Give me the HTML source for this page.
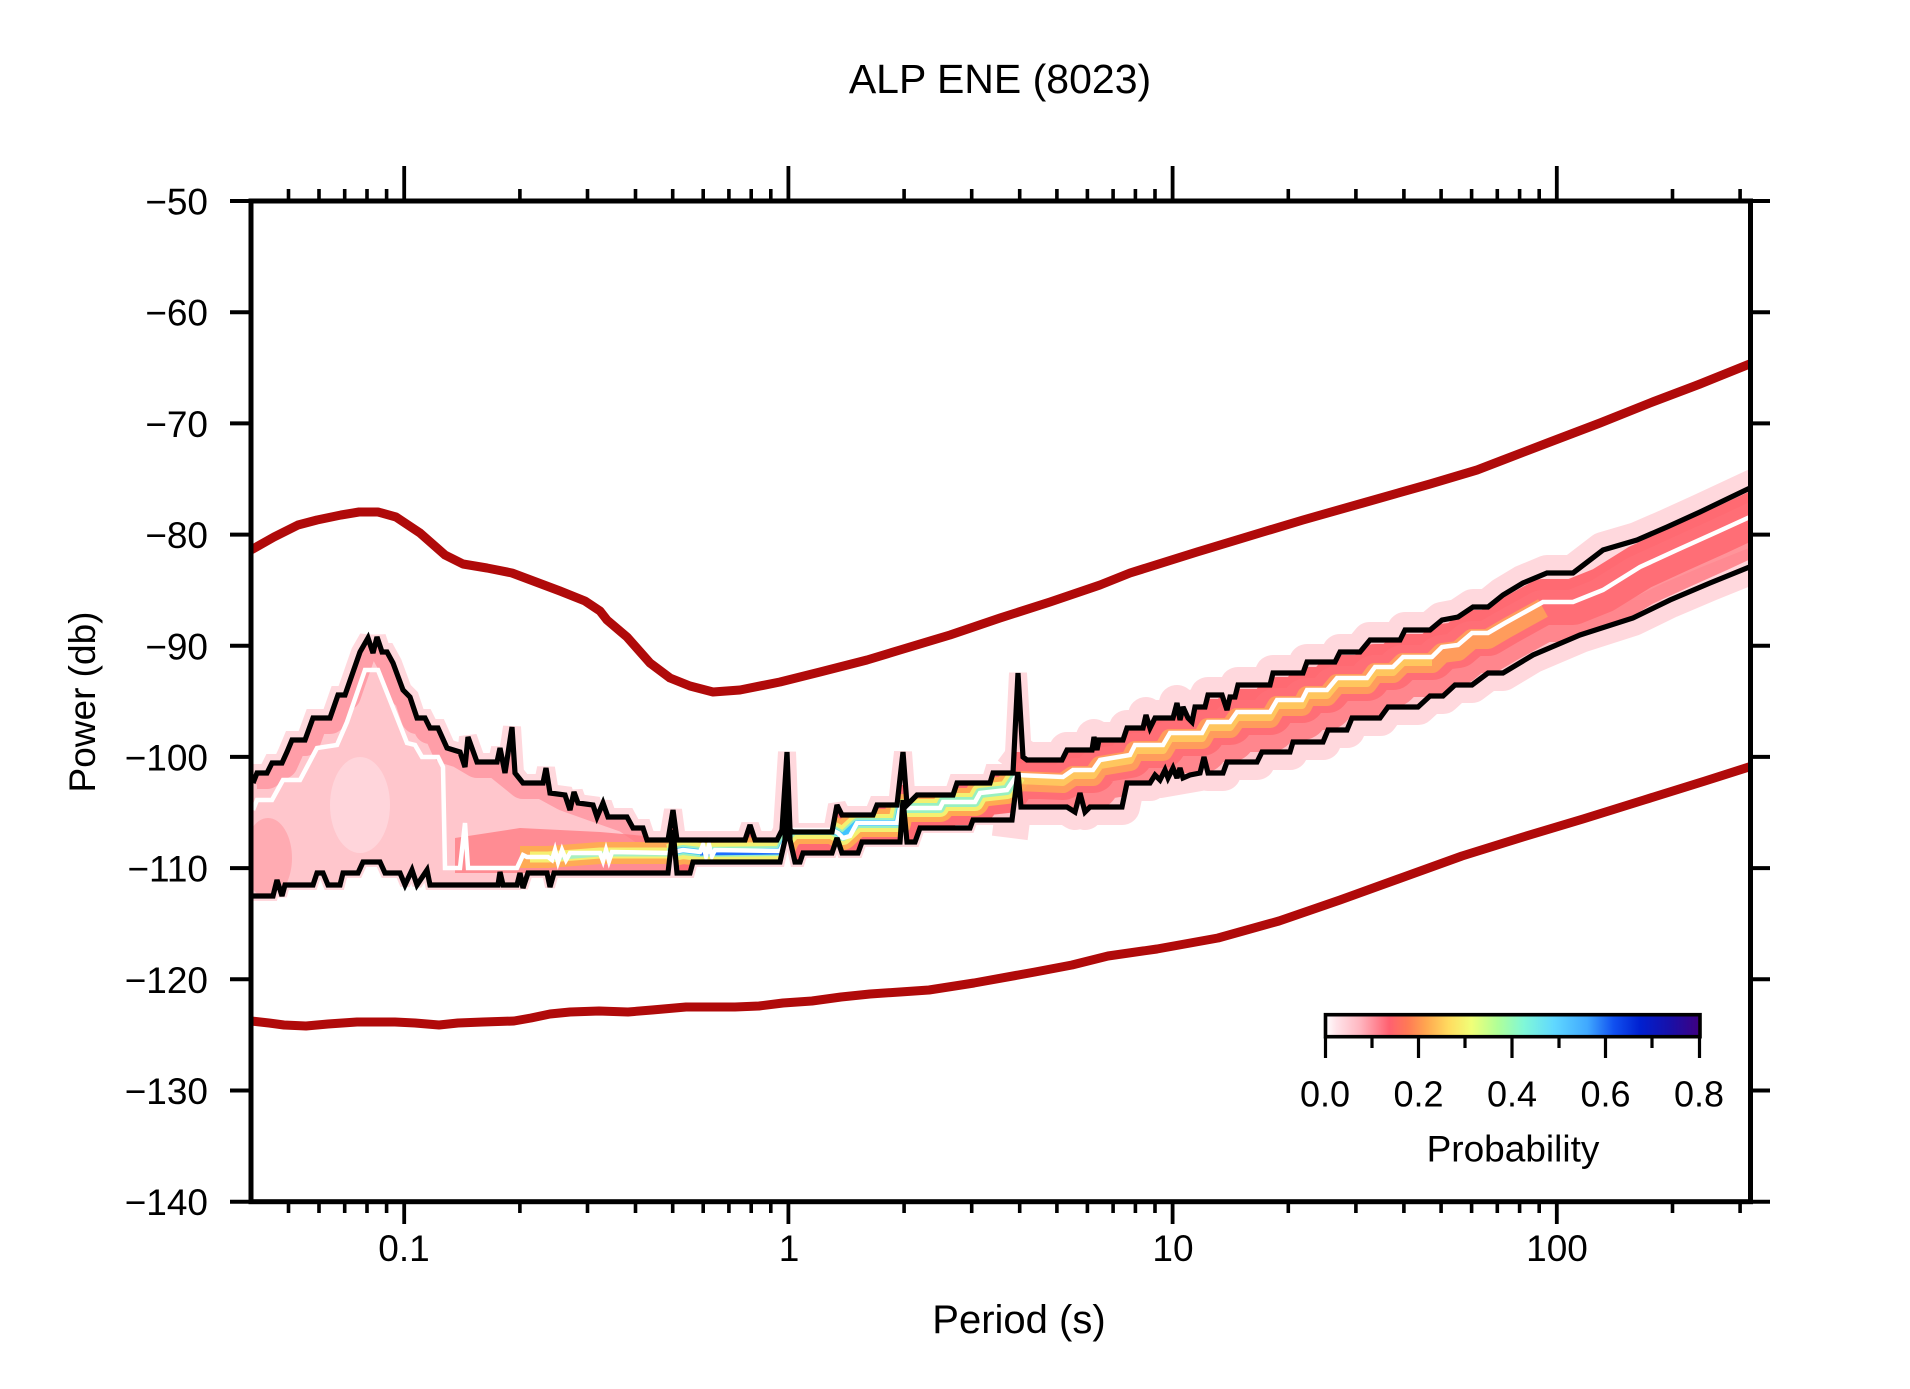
<!DOCTYPE html>
<html>
<head>
<meta charset="utf-8">
<style>
html,body{margin:0;padding:0;background:#fff;}
svg{display:block;}
text{font-family:"Liberation Sans",Arial,sans-serif;fill:#000;}
</style>
</head>
<body>
<svg width="1910" height="1389" viewBox="0 0 1910 1389" xmlns="http://www.w3.org/2000/svg">
<defs>
  <clipPath id="plot"><rect x="251" y="201" width="1499.5" height="1000.7"/></clipPath>
  <clipPath id="band">
    <polygon points="253,783 257,773 267,773 272,763 282,763 287,752 292,740 305,740 313,718 330,718 338,695 345,695 360,652 368,638 373,653 377,637 382,652 387,652 393,663 403,690 410,697 417,718 425,718 430,728 438,728 447,748 460,752 465,767 468,737 477,762 497,762 500,748 505,773 512,727 515,773 523,783 543,783 546,768 550,793 565,795 570,810 574,792 578,803 593,805 597,817 603,803 608,817 627,817 633,828 643,828 647,840 668,840 673,810 677,840 745,840 750,825 755,840 777,840 782,830 787,752 790,830 793,832 832,832 837,805 842,815 873,815 877,805 897,805 903,752 907,805 917,795 953,795 957,783 990,783 993,773 1013,773 1018,673 1023,757 1027,760 1062,760 1067,750 1092,750 1094,737 1097,750 1099,740 1123,740 1127,728 1143,728 1146,715 1150,728 1155,718 1173,718 1177,703 1180,720 1183,707 1188,718 1192,722 1195,707 1205,707 1208,695 1222,695 1227,710 1230,697 1235,697 1238,685 1270,685 1273,673 1303,673 1307,662 1335,662 1340,652 1360,652 1370,640 1400,640 1405,630 1430,630 1442,620 1458,617 1473,607 1488,607 1503,595 1523,583 1547,573 1573,573 1603,550 1637,540 1667,527 1700,512 1752,487 1752,567 1750,567 1710,583 1670,600 1633,618 1580,635 1533,655 1503,673 1488,673 1472,685 1455,685 1443,696 1430,696 1418,707 1388,707 1380,718 1352,718 1347,730 1328,730 1323,742 1293,742 1290,752 1262,752 1257,762 1227,762 1223,773 1208,773 1204,757 1200,773 1190,775 1183,778 1180,768 1177,778 1173,768 1168,778 1165,770 1160,780 1155,775 1150,783 1127,783 1122,807 1090,807 1085,812 1080,793 1075,812 1067,807 1021,807 1018,772 1012,820 973,820 970,828 920,828 915,842 907,842 903,800 900,842 862,842 858,853 842,853 837,838 832,853 803,853 800,862 795,862 790,840 787,762 785,840 780,862 693,862 690,873 677,873 673,830 668,873 554,873 550,887 547,873 528,873 523,888 520,873 517,885 503,885 500,872 498,885 430,885 427,870 417,885 412,870 405,885 400,873 385,873 380,862 363,862 358,873 343,873 340,885 328,885 323,873 317,873 313,885 285,885 282,896 277,880 273,896 251,896 251,783"/>
  </clipPath>
  <linearGradient id="cb" x1="0" y1="0" x2="1" y2="0">
    <stop offset="0" stop-color="#ffffff"/>
    <stop offset="0.03" stop-color="#ffe2e8"/>
    <stop offset="0.09" stop-color="#ffb8c2"/>
    <stop offset="0.17" stop-color="#ff6070"/>
    <stop offset="0.22" stop-color="#ff7a55"/>
    <stop offset="0.27" stop-color="#ffa850"/>
    <stop offset="0.33" stop-color="#ffdc60"/>
    <stop offset="0.39" stop-color="#f0ff78"/>
    <stop offset="0.46" stop-color="#b0ff98"/>
    <stop offset="0.53" stop-color="#80f8d8"/>
    <stop offset="0.61" stop-color="#60d8ff"/>
    <stop offset="0.70" stop-color="#40a8ff"/>
    <stop offset="0.77" stop-color="#1050f0"/>
    <stop offset="0.84" stop-color="#0020d0"/>
    <stop offset="0.92" stop-color="#1810a8"/>
    <stop offset="1" stop-color="#400080"/>
  </linearGradient>
</defs>

<rect width="1910" height="1389" fill="#fff"/>

<!-- Title -->
<text x="1000" y="93" font-size="41" text-anchor="middle">ALP ENE (8023)</text>

<g clip-path="url(#plot)">
  <!-- pink halos -->
  <g fill="none" stroke="#ffd8dd" stroke-linejoin="miter" stroke-miterlimit="2" stroke-linecap="square">
    <polyline stroke-width="18" points="253,783 257,773 267,773 272,763 282,763 287,752 292,740 305,740 313,718 330,718 338,695 345,695 360,652 368,638 373,653 377,637 382,652 387,652 393,663 403,690 410,697 417,718 425,718 430,728 438,728 447,748 460,752 465,767 468,737 477,762 497,762 500,748 505,773 512,727 515,773 523,783 543,783 546,768 550,793 565,795 570,810 574,792 578,803 593,805 597,817 603,803 608,817 627,817 633,828 643,828 647,840 668,840 673,810 677,840 745,840 750,825 755,840 777,840 782,830 787,752 790,830 793,832 832,832 837,805 842,815 873,815 877,805 897,805 903,752 907,805 917,795 953,795 957,783 990,783 993,773 1013,773 1018,673 1023,757 1027,760"/>
    <polyline stroke-width="10" points="253,896 273,896 277,880 282,896 285,885 313,885 317,873 323,873 328,885 340,885 343,873 358,873 363,862 380,862 385,873 400,873 405,885 412,870 417,885 427,870 430,885 498,885 500,872 503,885 517,885 520,873 523,888 528,873 547,873 550,887 554,873 668,873 673,830 677,873 690,873 693,862 780,862 785,840 787,762 790,840 795,862 800,862 803,853 832,853 837,838 842,853 858,853 862,842 900,842 903,800 907,842 915,842 920,828 970,828 973,820 1012,820"/>
    <polyline stroke-width="36" stroke="#ffd8dd" stroke-linejoin="round" points="1023,757 1027,760 1062,760 1067,750 1092,750 1094,737 1097,750 1099,740 1123,740 1127,728 1143,728 1146,715 1150,728 1155,718 1173,718 1177,703 1180,720 1183,707 1188,718 1192,722 1195,707 1205,707 1208,695 1222,695 1227,710 1230,697 1235,697 1238,685 1270,685 1273,673 1303,673 1307,662 1335,662 1340,652 1360,652 1370,640 1400,640 1405,630 1430,630 1442,620 1458,617 1473,607 1488,607 1503,595 1523,583 1547,573 1573,573 1603,550 1637,540 1667,527 1700,512 1760,484"/>
    <polyline stroke-width="36" stroke="#ffd8dd" stroke-linejoin="round" points="1012,820 1018,772 1021,807 1067,807 1075,812 1080,793 1085,812 1090,807 1122,807 1127,783 1150,783 1155,775 1160,780 1200,773 1204,757 1208,773 1223,773 1227,762 1257,762 1262,752 1290,752 1293,742 1323,742 1328,730 1347,730 1352,718 1380,718 1388,707 1418,707 1430,696 1443,696 1455,685 1472,685 1488,673 1503,673 1533,655 1580,635 1633,618 1670,600 1710,583 1760,563"/>
  </g>

  <!-- density band -->
  <g clip-path="url(#band)">
    <rect x="251" y="600" width="1500" height="320" fill="#ffc6cc"/>
    <!-- region A -->
    <polyline fill="none" stroke="#ff9ea8" stroke-width="32" stroke-linejoin="round" points="253,783 257,773 267,773 272,763 282,763 287,752 292,740 305,740 313,718 330,718 338,695 345,695 360,652 368,638 377,637 387,652 393,663 403,690 410,697 417,718 425,718 430,728 438,728 447,748 460,752 477,762 497,762 523,783 543,783 565,795 593,805 627,817 643,828 668,840"/>
    <ellipse cx="268" cy="858" rx="24" ry="40" fill="#ff8a92" opacity="0.45"/>
    <ellipse cx="360" cy="805" rx="30" ry="48" fill="#ffe0e5" opacity="0.6"/>
    <!-- region B -->
    <polygon points="455,838 520,828 600,832 668,838 668,873 455,873" fill="#ff7880" opacity="0.75"/>
    <polyline fill="none" stroke="#ffaa55" stroke-width="22" points="520,857 548,857 600,853 668,853"/>
    <polyline fill="none" stroke="#f6ef70" stroke-width="11" points="530,857 548,857 600,853 668,853"/>
    <polyline fill="none" stroke="#a8f0c0" stroke-width="5" points="550,858 600,854 668,854"/>
    <!-- region C/D strokes along mode -->
    <g fill="none" stroke-linejoin="round">
      <polyline stroke="#ff6a72" stroke-width="46" points="668,853 683,850 700,852 780,851 786,838 793,830 832,830 843,836 857,823 897,823 900,808 940,808 943,802 975,802 980,793 1007,790 1017,775 1063,777 1073,770 1093,770 1100,760 1130,755 1135,745 1163,745 1170,733 1202,733 1208,722 1230,722 1237,712 1270,712 1277,700 1302,700 1307,690 1327,690 1337,678 1367,678 1375,667 1393,667 1403,657 1432,657 1442,647 1458,645 1472,633 1488,633 1505,623 1543,602 1573,602 1603,590 1640,567 1677,550 1717,532 1760,512"/>
      <polyline stroke="#ff7078" stroke-width="52" opacity="0.75" transform="translate(0,14)" points="1017,775 1063,777 1073,770 1093,770 1100,760 1130,755 1135,745 1163,745 1170,733 1202,733 1208,722 1230,722 1237,712 1270,712 1277,700 1302,700 1307,690 1327,690 1337,678 1367,678 1375,667 1393,667 1403,657 1432,657 1442,647 1458,645 1472,633 1488,633 1505,623 1543,602 1573,602 1603,590 1640,567 1677,550 1717,532 1760,512"/>
      <polyline stroke="#ffa852" stroke-width="28" points="668,853 683,850 700,852 780,851 786,838 793,830 832,830 843,836 857,823 897,823 900,808 940,808 943,802 975,802 980,793 1007,790 1017,775"/>
      <polyline stroke="#ffa458" stroke-width="20" opacity="0.85" transform="translate(0,6)" points="1017,775 1063,777 1073,770 1093,770 1100,760 1130,755 1135,745 1163,745 1170,733 1202,733 1208,722 1230,722 1237,712 1270,712 1277,700 1302,700 1307,690 1327,690 1337,678 1367,678 1375,667 1393,667 1403,657 1432,657 1442,647 1458,645 1472,633 1488,633 1505,623 1543,602"/>
      <polyline stroke="#ffd860" stroke-width="8" opacity="0.7" transform="translate(0,5)" points="1017,775 1063,777 1073,770 1093,770 1100,760 1130,755 1135,745 1163,745 1170,733 1202,733 1208,722 1230,722 1237,712 1270,712 1277,700 1302,700 1307,690 1327,690 1337,678 1367,678 1375,667 1393,667 1403,657 1432,657"/>
      <polyline stroke="#f4f070" stroke-width="18" points="668,853 683,850 700,852 780,851 786,838 793,830 832,830 843,836 857,823 897,823 900,808 940,808 943,802 975,802 980,793 1007,790 1017,775"/>
      <polyline stroke="#98f0c0" stroke-width="10" points="668,853 683,850 700,852 780,851 786,838 793,830 832,830 843,836 857,823 897,823 900,808 940,808 943,802 975,802 980,793 1007,790 1017,775"/>
      <polyline stroke="#40c4ff" stroke-width="6" points="668,853 683,850 700,852 780,851 786,838 793,830 832,830 843,836 857,823 897,823 900,808"/>
      <polyline stroke="#1e70ff" stroke-width="3" points="700,854 780,853"/>
    </g>
  </g>

  <!-- mode (white) line -->
  <polyline fill="none" stroke="#ffffff" stroke-width="4.5" stroke-linejoin="miter" points="253,810 257,800 272,800 283,780 300,780 317,748 337,745 347,722 365,670 378,670 407,743 415,745 422,757 438,757 443,767 445,868 460,868 465,823 468,868 517,868 523,855 527,857 548,857 552,860 555,850 558,862 562,850 566,860 570,853 600,853 603,861 606,850 609,861 612,852 668,853 683,850 700,852 703,845 706,856 709,845 712,856 715,850 780,851 786,838 793,830 832,830 838,833 843,838 850,836 857,823 897,823 900,808 940,808 943,802 975,802 980,793 1007,790 1017,775 1063,777 1073,770 1093,770 1100,760 1130,755 1135,745 1163,745 1170,733 1202,733 1208,722 1230,722 1237,712 1270,712 1277,700 1302,700 1307,690 1327,690 1337,678 1367,678 1375,667 1393,667 1403,657 1432,657 1442,647 1458,645 1472,633 1488,633 1505,623 1543,602 1573,602 1603,590 1640,567 1677,550 1717,532 1752,516"/>

  <!-- percentile black lines -->
  <g fill="none" stroke="#000" stroke-width="5.2" stroke-linejoin="miter" stroke-miterlimit="3">
    <polyline points="253,783 257,773 267,773 272,763 282,763 287,752 292,740 305,740 313,718 330,718 338,695 345,695 360,652 368,638 373,653 377,637 382,652 387,652 393,663 403,690 410,697 417,718 425,718 430,728 438,728 447,748 460,752 465,767 468,737 477,762 497,762 500,748 505,773 512,727 515,773 523,783 543,783 546,768 550,793 565,795 570,810 574,792 578,803 593,805 597,817 603,803 608,817 627,817 633,828 643,828 647,840 668,840 673,810 677,840 745,840 750,825 755,840 777,840 782,830 787,752 790,830 793,832 832,832 837,805 842,815 873,815 877,805 897,805 903,752 907,805 917,795 953,795 957,783 990,783 993,773 1013,773 1018,673 1023,757 1027,760 1062,760 1067,750 1092,750 1094,737 1097,750 1099,740 1123,740 1127,728 1143,728 1146,715 1150,728 1155,718 1173,718 1177,703 1180,720 1183,707 1188,718 1192,722 1195,707 1205,707 1208,695 1222,695 1227,710 1230,697 1235,697 1238,685 1270,685 1273,673 1303,673 1307,662 1335,662 1340,652 1360,652 1370,640 1400,640 1405,630 1430,630 1442,620 1458,617 1473,607 1488,607 1503,595 1523,583 1547,573 1573,573 1603,550 1637,540 1667,527 1700,512 1752,487"/>
    <polyline points="253,896 273,896 277,880 282,896 285,885 313,885 317,873 323,873 328,885 340,885 343,873 358,873 363,862 380,862 385,873 400,873 405,885 412,870 417,885 427,870 430,885 498,885 500,872 503,885 517,885 520,873 523,888 528,873 547,873 550,887 554,873 668,873 673,830 677,873 690,873 693,862 780,862 785,840 787,762 790,840 795,862 800,862 803,853 832,853 837,838 842,853 858,853 862,842 900,842 903,800 907,842 915,842 920,828 970,828 973,820 1012,820 1018,772 1021,807 1067,807 1075,812 1080,793 1085,812 1090,807 1122,807 1127,783 1150,783 1155,775 1160,780 1165,770 1168,778 1173,768 1177,778 1180,768 1183,778 1190,775 1200,773 1204,757 1208,773 1223,773 1227,762 1257,762 1262,752 1290,752 1293,742 1323,742 1328,730 1347,730 1352,718 1380,718 1388,707 1418,707 1430,696 1443,696 1455,685 1472,685 1488,673 1503,673 1533,655 1580,635 1633,618 1670,600 1710,583 1752,566"/>
  </g>

  <!-- noise model red lines -->
  <g fill="none" stroke="#b00a0a" stroke-width="9" stroke-linejoin="round" stroke-linecap="round">
    <polyline points="251,550 274,537 298,525 317,520 341,515 359,512 378,512 396,517 420,533 445,555 463,564 487,568 512,573 536,582 560,591 585,601 600,611 607,620 627,637 650,663 670,678 690,686 713,692 740,690 780,682 820,672 867,660 900,650 950,635 1000,618 1050,602 1100,585 1130,573 1197,552 1263,532 1303,520 1363,503 1430,484 1477,470 1503,460 1550,442 1600,423 1650,403 1700,384 1752,363"/>
    <polyline points="251,1021 269,1023 284,1025 306,1026 328,1024 357,1022 395,1022 415,1023 439,1025 458,1023 483,1022 514,1021 531,1018 550,1014 570,1012 599,1011 628,1012 652,1010 686,1007 735,1007 759,1006 783,1003 812,1001 841,997 870,994 900,992 929,990 974,983 1035,972 1072,965 1108,956 1157,949 1218,938 1279,921 1340,900 1401,878 1462,856 1523,837 1583,819 1644,800 1705,781 1752,766"/>
  </g>
</g>

<!-- colorbar -->
<rect x="1325.5" y="1014.7" width="374.5" height="22" fill="url(#cb)" stroke="#000" stroke-width="3.6"/>
<g stroke="#000" stroke-width="3.2">
  <line x1="1325.5" y1="1037" x2="1325.5" y2="1058"/>
  <line x1="1418.5" y1="1037" x2="1418.5" y2="1058"/>
  <line x1="1512" y1="1037" x2="1512" y2="1058"/>
  <line x1="1605.5" y1="1037" x2="1605.5" y2="1058"/>
  <line x1="1699.5" y1="1037" x2="1699.5" y2="1058"/>
  <line x1="1372" y1="1037" x2="1372" y2="1048"/>
  <line x1="1465" y1="1037" x2="1465" y2="1048"/>
  <line x1="1559" y1="1037" x2="1559" y2="1048"/>
  <line x1="1652" y1="1037" x2="1652" y2="1048"/>
</g>
<g font-size="36" text-anchor="middle">
  <text x="1325" y="1106.5">0.0</text>
  <text x="1418.5" y="1106.5">0.2</text>
  <text x="1512" y="1106.5">0.4</text>
  <text x="1605.5" y="1106.5">0.6</text>
  <text x="1699" y="1106.5">0.8</text>
</g>
<text x="1513" y="1161.5" font-size="37" text-anchor="middle">Probability</text>

<!-- frame -->
<rect x="251" y="201" width="1499.5" height="1000.7" fill="none" stroke="#000" stroke-width="5"/>

<!-- y ticks -->
<g stroke="#000" stroke-width="4">
  <line x1="230" y1="201" x2="251" y2="201"/><line x1="1750" y1="201" x2="1770" y2="201"/>
  <line x1="230" y1="312.2" x2="251" y2="312.2"/><line x1="1750" y1="312.2" x2="1770" y2="312.2"/>
  <line x1="230" y1="423.4" x2="251" y2="423.4"/><line x1="1750" y1="423.4" x2="1770" y2="423.4"/>
  <line x1="230" y1="534.6" x2="251" y2="534.6"/><line x1="1750" y1="534.6" x2="1770" y2="534.6"/>
  <line x1="230" y1="645.8" x2="251" y2="645.8"/><line x1="1750" y1="645.8" x2="1770" y2="645.8"/>
  <line x1="230" y1="756.9" x2="251" y2="756.9"/><line x1="1750" y1="756.9" x2="1770" y2="756.9"/>
  <line x1="230" y1="868.1" x2="251" y2="868.1"/><line x1="1750" y1="868.1" x2="1770" y2="868.1"/>
  <line x1="230" y1="979.3" x2="251" y2="979.3"/><line x1="1750" y1="979.3" x2="1770" y2="979.3"/>
  <line x1="230" y1="1090.5" x2="251" y2="1090.5"/><line x1="1750" y1="1090.5" x2="1770" y2="1090.5"/>
  <line x1="230" y1="1201.7" x2="251" y2="1201.7"/><line x1="1750" y1="1201.7" x2="1770" y2="1201.7"/>
</g>
<g font-size="37" text-anchor="end">
  <text x="208" y="214.5">−50</text>
  <text x="208" y="325.7">−60</text>
  <text x="208" y="436.9">−70</text>
  <text x="208" y="548.1">−80</text>
  <text x="208" y="659.3">−90</text>
  <text x="208" y="770.4">−100</text>
  <text x="208" y="881.6">−110</text>
  <text x="208" y="992.8">−120</text>
  <text x="208" y="1104">−130</text>
  <text x="208" y="1215.2">−140</text>
</g>

<!-- x ticks -->
<g stroke="#000" stroke-width="3.8">
  <line x1="404.2" y1="166" x2="404.2" y2="201"/><line x1="404.2" y1="1201" x2="404.2" y2="1224"/>
  <line x1="788.4" y1="166" x2="788.4" y2="201"/><line x1="788.4" y1="1201" x2="788.4" y2="1224"/>
  <line x1="1172.6" y1="166" x2="1172.6" y2="201"/><line x1="1172.6" y1="1201" x2="1172.6" y2="1224"/>
  <line x1="1556.8" y1="166" x2="1556.8" y2="201"/><line x1="1556.8" y1="1201" x2="1556.8" y2="1224"/>
</g>
<g stroke="#000" stroke-width="3.6">
  <path d="M288.5 189V201M319 189V201M344.7 189V201M367 189V201M386.6 189V201M519.9 189V201M587.5 189V201M635.5 189V201M672.7 189V201M703.2 189V201M728.9 189V201M751.2 189V201M770.8 189V201M904.1 189V201M971.7 189V201M1019.7 189V201M1056.9 189V201M1087.4 189V201M1113.1 189V201M1135.4 189V201M1155 189V201M1288.3 189V201M1355.9 189V201M1403.9 189V201M1441.1 189V201M1471.6 189V201M1497.3 189V201M1519.6 189V201M1539.2 189V201M1672.5 189V201M1740.1 189V201"/>
  <path d="M288.5 1201V1213M319 1201V1213M344.7 1201V1213M367 1201V1213M386.6 1201V1213M519.9 1201V1213M587.5 1201V1213M635.5 1201V1213M672.7 1201V1213M703.2 1201V1213M728.9 1201V1213M751.2 1201V1213M770.8 1201V1213M904.1 1201V1213M971.7 1201V1213M1019.7 1201V1213M1056.9 1201V1213M1087.4 1201V1213M1113.1 1201V1213M1135.4 1201V1213M1155 1201V1213M1288.3 1201V1213M1355.9 1201V1213M1403.9 1201V1213M1441.1 1201V1213M1471.6 1201V1213M1497.3 1201V1213M1519.6 1201V1213M1539.2 1201V1213M1672.5 1201V1213M1740.1 1201V1213"/>
</g>
<g font-size="37" text-anchor="middle">
  <text x="404" y="1261">0.1</text>
  <text x="789" y="1261">1</text>
  <text x="1173" y="1261">10</text>
  <text x="1557" y="1261">100</text>
</g>

<!-- axis labels -->
<text x="1019" y="1333" font-size="40" text-anchor="middle">Period (s)</text>
<text transform="translate(95,702) rotate(-90)" font-size="37" text-anchor="middle">Power (db)</text>
</svg>
</body>
</html>
